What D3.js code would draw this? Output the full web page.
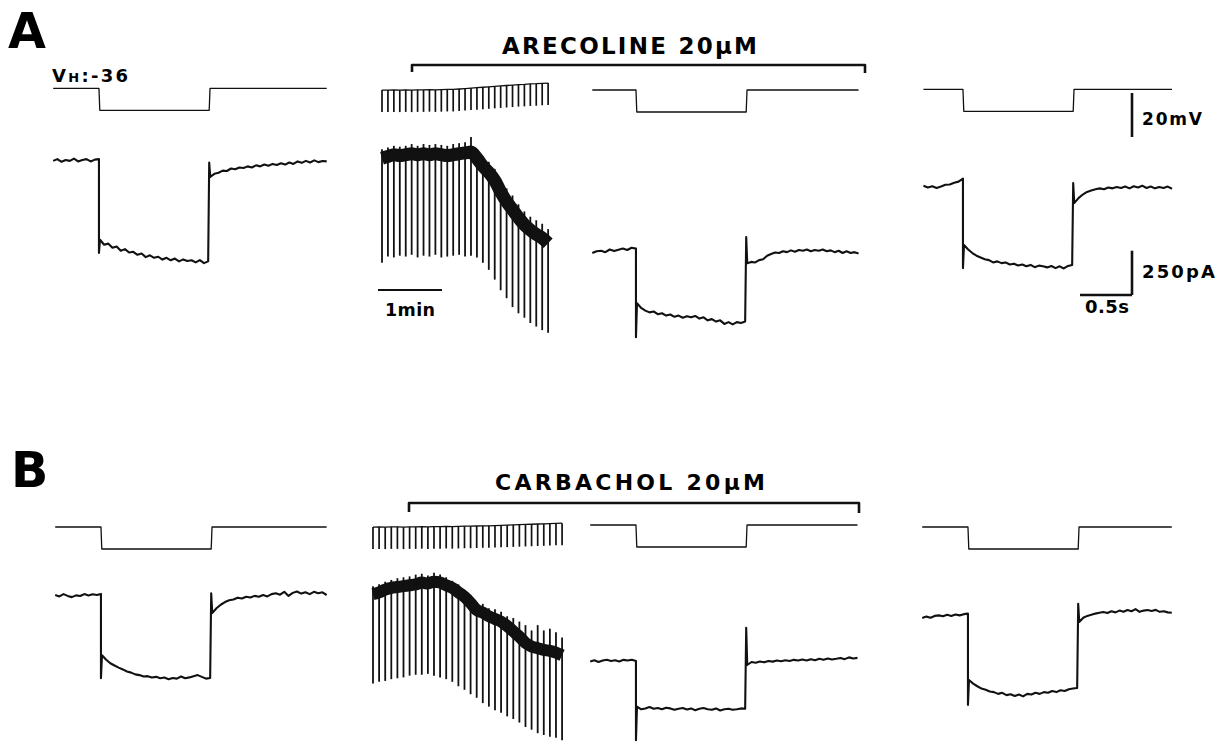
<!DOCTYPE html>
<html>
<head>
<meta charset="utf-8">
<style>
  body { margin: 0; background: #fff; }
  svg { display: block; font-family: "DejaVu Sans", "Liberation Sans", Arial, sans-serif; font-weight: bold; }
  .trace { fill: none; stroke: #111; stroke-linejoin: round; }
</style>
</head>
<body>
<svg id="fig" width="1225" height="742"></svg>
<script src="https://cdn.jsdelivr.net/npm/d3@7"></script>
<script>
// voltage protocol (mV, s)
var vHold = -36, vStep = -46, tOn = 0.44, tOff = 1.50;

// sweep currents (pA): before, during and after the step
var a1Pre  = [-5, 5, -10, 0, -5, 8, -8, 0, 5, -8, 2, 5];
var a1Step = [-450, -478, -472, -495, -488, -512, -503, -522, -518, -535, -528, -548, -538, -552, -546, -562, -552, -566, -556, -572, -561, -570, -566, -578, -565, -582, -572];
var a1Post = [-95, -78, -72, -60, -62, -48, -52, -42, -45, -36, -42, -30, -36, -25, -32, -22, -28, -18, -26, -14, -22, -8, -16, -5, -14, -2, -12, -6, -8];

var a3Pre  = [-525, -515, -512, -520, -505, -514, -506, -500, -508, -495, -500];
var a3Step = [-808, -835, -850, -860, -855, -870, -865, -878, -872, -885, -878, -890, -882, -888, -880, -895, -888, -905, -898, -912, -905, -925, -915, -928, -915, -920, -912];
var a3Post = [-583, -575, -578, -565, -560, -540, -530, -522, -525, -515, -520, -510, -518, -508, -512, -505, -515, -508, -512, -505, -515, -510, -520, -512, -525, -515, -525, -520, -528];

var a4Pre  = [-145, -155, -148, -158, -150, -140, -138, -128, -122, -105];
var a4Step = [-480, -505, -525, -540, -550, -560, -565, -578, -572, -582, -578, -590, -585, -595, -590, -600, -592, -605, -596, -600, -606, -598, -610, -600, -612, -598, -592];
var a4Post = [-243, -215, -195, -180, -172, -165, -160, -165, -155, -160, -152, -158, -150, -160, -148, -155, -145, -158, -150, -160, -152, -158, -150, -162];

var b1Pre  = [0, -8, 5, -5, -12, -2, -6, 5, -3, 4, 0, 6];
var b1Step = [-340, -365, -385, -398, -410, -420, -432, -438, -448, -452, -460, -458, -466, -462, -470, -466, -475, -468, -472, -460, -470, -465, -458, -452, -462, -472, -468];
var b1Post = [-102, -75, -55, -40, -30, -25, -15, -20, -10, -14, -5, -10, 0, -8, 5, 10, 2, 18, -5, 12, 20, 8, 15, 5, 18, 10, 15, 0];

var b3Pre  = [-375, -368, -378, -370, -365, -372, -368, -375, -366, -370, -365, -372];
var b3Step = [-630, -645, -640, -632, -642, -638, -645, -636, -640, -648, -642, -638, -646, -640, -650, -642, -638, -645, -648, -640, -652, -645, -642, -648, -645, -640, -642];
var b3Post = [-395, -378, -382, -375, -380, -372, -376, -370, -374, -368, -372, -366, -370, -364, -370, -362, -368, -360, -366, -358, -364, -360, -355, -362, -352, -358, -355];

var b4Pre  = [-130, -122, -128, -118, -115, -120, -112, -118, -110, -115, -108, -105];
var b4Step = [-480, -500, -515, -528, -535, -545, -548, -558, -552, -565, -560, -570, -562, -572, -558, -562, -552, -558, -548, -552, -542, -548, -538, -542, -532, -528, -525];
var b4Post = [-152, -128, -118, -112, -105, -100, -96, -102, -92, -98, -88, -95, -85, -92, -80, -95, -88, -85, -90, -84, -95, -92, -98, -100];

// capacitive transients at step on / off (pA)
var onPeaks  = [-525, -1000, -610, -470, -820, -620];
var offPeaks = [-15, -435, -130, 10, -185, -50];
// displayed part of each sweep (s)
var windows = [[0, 2.63], [0.02, 2.58], [0.06, 2.45], [0, 2.61], [0, 2.57], [0, 2.40]];

// chart records: one pulse every interval (min)
var chartAInterval = 0.0927, chartBInterval = 0.0953;
var chartAVolt = [-36.5, -36.5, -36.4, -36.5, -36.4, -36.5, -36.4, -36.4, -36.3, -36.4, -36.3, -36.2, -36.2, -36.0, -35.8, -35.6, -35.4, -35.2, -35.0, -34.8, -34.6, -34.4, -34.2, -34.0, -33.9, -33.7, -33.6, -33.4, -33.3];
var chartAHold = [10, 20, 30, 25, 30, 35, 30, 35, 30, 35, 30, 25, 30, 35, 40, 45, 10, -35, -70, -115, -180, -235, -280, -325, -365, -395, -420, -440, -470];
var chartAPeak = [-580, -545, -550, -540, -545, -535, -550, -540, -545, -535, -550, -545, -540, -535, -545, -540, -550, -580, -620, -675, -735, -780, -830, -865, -890, -920, -940, -960, -975];
var chartAUp   = [60, 70, 80, 75, 80, 90, 80, 90, 85, 90, 85, 80, 90, 95, 100, 130, 60, 20, -10, -50, -110, -160, -200, -250, -290, -320, -340, -360, -390];

var chartBVolt = [-36.5, -36.4, -36.5, -36.4, -36.4, -36.5, -36.4, -36.4, -36.3, -36.4, -36.3, -36.3, -36.2, -36.3, -36.2, -36.1, -36.1, -36.0, -35.9, -35.9, -35.8, -35.7, -35.6, -35.5, -35.4, -35.3, -35.2, -35.1, -35.0, -34.9, -34.8, -34.7];
var chartBHold = [5, 15, 30, 40, 45, 50, 55, 60, 70, 65, 75, 70, 55, 40, 15, -10, -45, -85, -100, -120, -135, -150, -175, -205, -235, -270, -290, -300, -310, -315, -325, -340];
var chartBPeak = [-500, -490, -485, -475, -470, -465, -455, -450, -450, -445, -455, -465, -475, -490, -515, -535, -560, -580, -610, -630, -650, -665, -685, -700, -720, -745, -760, -780, -790, -800, -805, -820];
var chartBUp   = [50, 60, 75, 85, 95, 100, 105, 115, 120, 110, 125, 115, 100, 80, 60, 30, 0, -40, -50, -75, -80, -95, -120, -130, -150, -170, -200, -170, -200, -190, -210, -240];

var drugLabels = ["ARECOLINE 20\u03bcM", "CARBACHOL 20\u03bcM"];
var barMV = 20, barPA = 250, barS = 0.5, barMin = 1;

// scales
var x  = d3.scaleLinear().domain([0, 1]).range([0, 104]);      // s
var xc = d3.scaleLinear().domain([0, 1]).range([0, 64]);       // min
var yV = d3.scaleLinear().domain([vHold, vStep]).range([0, 22]);
var yI = d3.scaleLinear().domain([0, -250]).range([0, 44.3]);

var svg = d3.select("#fig");

// layout
var rows = [{ vY: 89, iY: 160 }, { vY: 526, iY: 595 }];
var sweeps = [
  { row: 0, x0: 53.2,  vY: 88.3, pre: a1Pre, step: a1Step, post: a1Post },
  { row: 0, x0: 590.2, vY: 90,   pre: a3Pre, step: a3Step, post: a3Post },
  { row: 0, x0: 917.2, vY: 89.3, pre: a4Pre, step: a4Step, post: a4Post },
  { row: 1, x0: 55.2,  vY: 527,  pre: b1Pre, step: b1Step, post: b1Post },
  { row: 1, x0: 590.2, vY: 525,  pre: b3Pre, step: b3Step, post: b3Post },
  { row: 1, x0: 922.2, vY: 527,  pre: b4Pre, step: b4Step, post: b4Post }
];

function spread(vals, t0, t1) {
  var n = vals.length;
  return vals.map(function(v, i) { return [t0 + (t1 - t0) * i / (n - 1), v]; });
}

var lineV = d3.line().x(function(d) { return x(d[0]); }).y(function(d) { return yV(d[1]); });
var lineI = d3.line().x(function(d) { return x(d[0]); }).y(function(d) { return yI(d[1]); });

sweeps.forEach(function(s, k) {
  var w = windows[k];
  var vPts = [[w[0], vHold], [tOn, vHold], [tOn + 0.008, vStep], [tOff, vStep], [tOff + 0.008, vHold], [w[1], vHold]];
  svg.append("path")
    .attr("class", "trace")
    .attr("transform", "translate(" + s.x0 + "," + s.vY + ")")
    .attr("stroke-width", 1.3)
    .attr("d", lineV(vPts));

  var iPts = spread(s.pre, w[0], tOn)
    .concat([[tOn, onPeaks[k]]])
    .concat(spread(s.step, tOn + 0.01, tOff - 0.01))
    .concat([[tOff, offPeaks[k]]])
    .concat(spread(s.post, tOff + 0.01, w[1]));
  svg.append("path")
    .attr("class", "trace")
    .attr("transform", "translate(" + s.x0 + "," + rows[s.row].iY + ")")
    .attr("stroke-width", 2.1)
    .attr("d", lineI(iPts));
});

// slow chart records
var charts = [
  { x0: 382, row: 0, interval: chartAInterval, volt: chartAVolt, hold: chartAHold, peak: chartAPeak, up: chartAUp, band: 13 },
  { x0: 373, row: 1, interval: chartBInterval, volt: chartBVolt, hold: chartBHold, peak: chartBPeak, up: chartBUp, band: 12 }
];

charts.forEach(function(c) {
  var r = rows[c.row];
  var px = function(i) { return xc(i * c.interval); };

  var gv = svg.append("g").attr("transform", "translate(" + c.x0 + "," + r.vY + ")");
  gv.append("path")
    .attr("class", "trace")
    .attr("stroke-width", 1.3)
    .attr("d", d3.line().x(function(d, i) { return px(i); }).y(function(d) { return yV(d); })(c.volt));
  gv.selectAll("line")
    .data(c.volt)
    .enter().append("line")
      .attr("x1", function(d, i) { return px(i); })
      .attr("x2", function(d, i) { return px(i); })
      .attr("y1", function(d) { return yV(d); })
      .attr("y2", function(d) { return yV(d + (vStep - vHold)); })
      .attr("stroke", "#111")
      .attr("stroke-width", 1.7);

  var gi = svg.append("g").attr("transform", "translate(" + c.x0 + "," + r.iY + ")");
  gi.append("path")
    .attr("class", "trace")
    .attr("stroke-width", c.band)
    .attr("d", d3.line().x(function(d, i) { return px(i); }).y(function(d) { return yI(d); }).curve(d3.curveMonotoneX)(c.hold));
  gi.selectAll("line")
    .data(c.peak)
    .enter().append("line")
      .attr("x1", function(d, i) { return px(i); })
      .attr("x2", function(d, i) { return px(i); })
      .attr("y1", function(d, i) { return yI(c.up[i]); })
      .attr("y2", function(d) { return yI(d); })
      .attr("stroke", "#111")
      .attr("stroke-width", 1.8);
});

// drug application brackets
svg.append("path").attr("class", "trace").attr("stroke-width", 2.6).attr("d", "M412,72V65H865V73");
svg.append("path").attr("class", "trace").attr("stroke-width", 2.6).attr("d", "M409,512V503H859V513");
svg.append("text").attr("x", 502).attr("y", 54).attr("font-size", 23)
  .attr("textLength", 255).attr("lengthAdjust", "spacing").text(drugLabels[0]);
svg.append("text").attr("x", 495).attr("y", 490).attr("font-size", 22)
  .attr("textLength", 270).attr("lengthAdjust", "spacing").text(drugLabels[1]);

// panel letters
svg.append("text").attr("x", 8).attr("y", 48).attr("font-size", 49).text("A");
svg.append("text").attr("x", 11).attr("y", 487).attr("font-size", 49).text("B");

var vh = svg.append("text").attr("x", 52).attr("y", 82).attr("font-size", 18)
  .attr("textLength", 76).attr("lengthAdjust", "spacing");
vh.append("tspan").text("V");
vh.append("tspan").attr("font-size", 13).text("H");
vh.append("tspan").text(":-36");

// scale bars
var bar = svg.append("g").attr("fill", "none").attr("stroke", "#111").attr("stroke-width", 2.6);
bar.append("line").attr("x1", 1132).attr("x2", 1132).attr("y1", 93).attr("y2", 93 + yV(vHold - barMV));
bar.append("line").attr("x1", 1132).attr("x2", 1132).attr("y1", 295 - yI(-barPA)).attr("y2", 295);
bar.append("line").attr("x1", 1132 - x(barS)).attr("x2", 1132).attr("y1", 295).attr("y2", 295);
bar.append("line").attr("x1", 378).attr("x2", 378 + xc(barMin)).attr("y1", 290).attr("y2", 290).attr("stroke-width", 2.2);

svg.append("text").attr("x", 1142).attr("y", 125).attr("font-size", 17)
  .attr("textLength", 60).attr("lengthAdjust", "spacing").text(barMV + "mV");
svg.append("text").attr("x", 1142).attr("y", 278).attr("font-size", 18)
  .attr("textLength", 73).attr("lengthAdjust", "spacing").text(barPA + "pA");
svg.append("text").attr("x", 1085).attr("y", 313).attr("font-size", 18)
  .attr("textLength", 44).attr("lengthAdjust", "spacing").text(barS + "s");
svg.append("text").attr("x", 385).attr("y", 316).attr("font-size", 17.5)
  .attr("textLength", 50).attr("lengthAdjust", "spacing").text(barMin + "min");
</script>
</body>
</html>
